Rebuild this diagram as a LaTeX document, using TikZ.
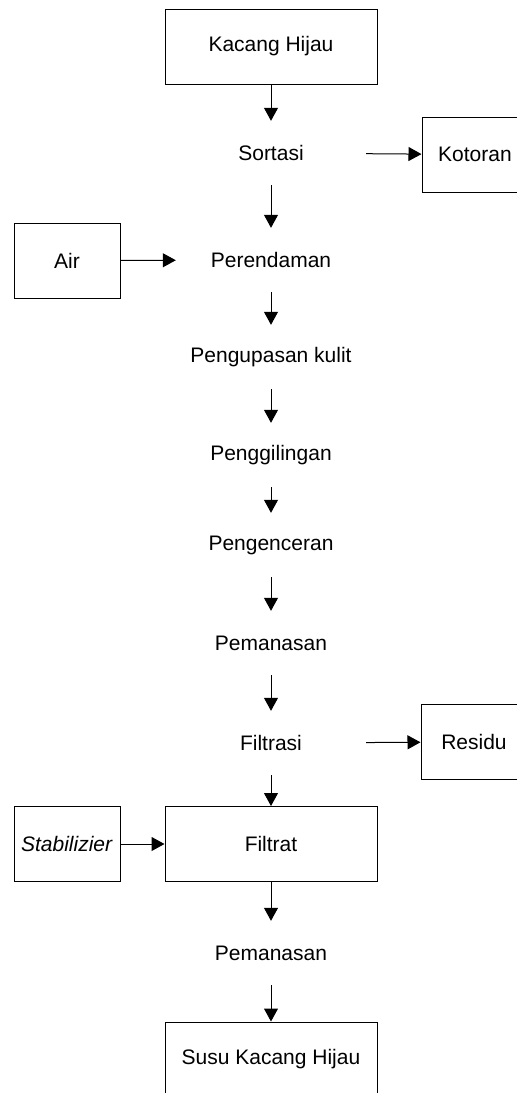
\documentclass[tikz,border=0pt]{standalone}
\usepackage{fontspec}
\setmainfont{Liberation Sans}
\usetikzlibrary{arrows.meta, positioning}

\begin{document}
\begin{tikzpicture}[
x=1pt, y=-1pt,
font=\fontsize{21}{25}\selectfont,
box/.style={rectangle, draw, line width=1pt, minimum width=212pt, minimum height=75pt, inner sep=0pt},
sidebox/.style={rectangle, draw, line width=1pt, minimum width=106pt, minimum height=75pt, inner sep=0pt},
stepnode/.style={rectangle, minimum width=190pt, minimum height=64pt, inner sep=0pt},
arrow/.style={-{Triangle[length=13pt, width=14pt]}, line width=1pt}
]
\useasboundingbox (0,0) rectangle (517,1093);
\clip (0,0) rectangle (517,1093);

\node[box] (kacang) at (271,46.5) {Kacang Hijau};
\node[stepnode] (sortasi) at (271,153) {Sortasi};
\node[stepnode] (rendam) at (271,260) {Perendaman};
\node[stepnode] (kupas) at (271,357) {Pengupasan kulit};
\node[stepnode] (giling) at (271,455) {Penggilingan};
\node[stepnode] (encer) at (271,545) {Pengenceran};
\node[stepnode] (panas) at (271,643) {Pemanasan};
\node[stepnode] (filtrasi) at (271,743) {Filtrasi};
\node[box] (filtrat) at (271,844) {Filtrat};
\node[stepnode] (panasdua) at (271,953) {Pemanasan};
\node[box] (susu) at (271,1059.5) {Susu Kacang Hijau};

\node[sidebox] (kotoran) at (475,154.5) {Kotoran};
\node[sidebox] (air) at (67,260.5) {Air};
\node[sidebox] (residu) at (474,742) {Residu};
\node[sidebox] (stabil) at (67,844) {\textit{Stabilizier}};

\draw[arrow] (kacang) -- (sortasi);
\draw[arrow] (sortasi) -- (rendam);
\draw[arrow] (rendam) -- (kupas);
\draw[arrow] (kupas) -- (giling);
\draw[arrow] (giling) -- (encer);
\draw[arrow] (encer) -- (panas);
\draw[arrow] (panas) -- (filtrasi);
\draw[arrow] (filtrasi) -- (filtrat);
\draw[arrow] (filtrat) -- (panasdua);
\draw[arrow] (panasdua) -- (susu);

\draw[arrow] (sortasi) -- (kotoran);
\draw[arrow] (air) -- (rendam);
\draw[arrow] (filtrasi) -- (residu);
\draw[arrow] (stabil) -- (filtrat);

\end{tikzpicture}
\end{document}
